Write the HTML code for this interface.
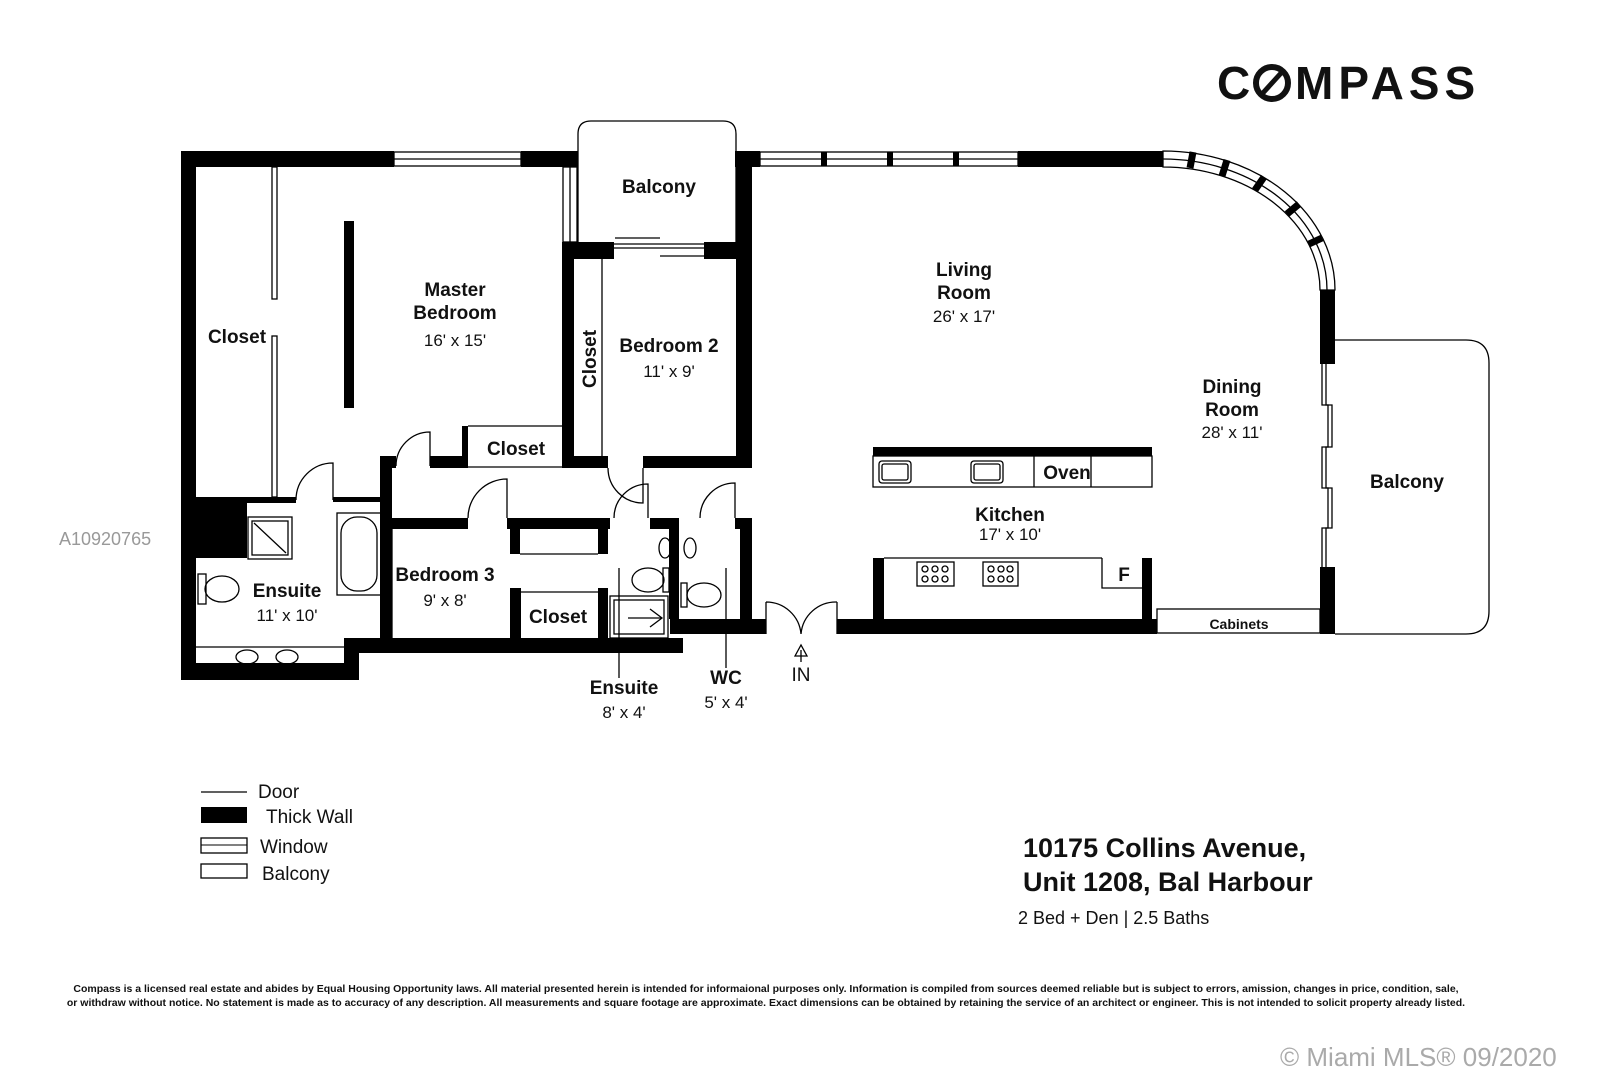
<!DOCTYPE html>
<html><head><meta charset="utf-8"><style>
html,body{margin:0;padding:0;background:#fff;}
svg{display:block;font-family:"Liberation Sans",sans-serif;}
</style></head><body>
<svg width="1600" height="1074" viewBox="0 0 1600 1074" xmlns="http://www.w3.org/2000/svg">
<rect width="1600" height="1074" fill="#fff"/>
<!-- Logo -->
<text x="1217" y="99" font-size="46" font-weight="bold" letter-spacing="5" fill="#111">C</text>
<circle cx="1272" cy="83" r="16" fill="none" stroke="#111" stroke-width="6"/>
<line x1="1262" y1="94" x2="1282" y2="72" stroke="#111" stroke-width="5"/>
<text x="1295" y="99" font-size="46" font-weight="bold" letter-spacing="5" fill="#111">MPASS</text>

<g fill="#000">
<rect x="181" y="151" width="15" height="529"/>
<rect x="181" y="151" width="213" height="16"/>
<rect x="521" y="151" width="57" height="16"/>
<rect x="562" y="242" width="12" height="224"/>
<rect x="562" y="242" width="52" height="17"/>
<rect x="704" y="242" width="48" height="17"/>
<rect x="736" y="151" width="16" height="317"/>
<rect x="562" y="456" width="46" height="12"/>
<rect x="643" y="456" width="109" height="12"/>
<rect x="344" y="221" width="10" height="187"/>
<rect x="196" y="497" width="51" height="61"/>
<rect x="196" y="497" width="100" height="6"/>
<rect x="333" y="497" width="47" height="5"/>
<rect x="380" y="456" width="12" height="182"/>
<rect x="380" y="456" width="16" height="12"/>
<rect x="430" y="456" width="35" height="12"/>
<rect x="462" y="426" width="6" height="42"/>
<rect x="181" y="663" width="178" height="17"/>
<rect x="344" y="638" width="15" height="42"/>
<rect x="344" y="638" width="339" height="15"/>
<rect x="670" y="619" width="96" height="15"/>
<rect x="388" y="518" width="80" height="11"/>
<rect x="507" y="518" width="103" height="11"/>
<rect x="510" y="529" width="10" height="25"/>
<rect x="598" y="529" width="10" height="25"/>
<rect x="510" y="588" width="11" height="50"/>
<rect x="598" y="588" width="10" height="50"/>
<rect x="650" y="518" width="22" height="11"/>
<rect x="669" y="518" width="10" height="101"/>
<rect x="735" y="518" width="17" height="11"/>
<rect x="740" y="518" width="12" height="112"/>
<rect x="735" y="151" width="25" height="16"/>
<rect x="1018" y="151" width="145" height="16"/>
<rect x="1320" y="290" width="15" height="74"/>
<rect x="1320" y="567" width="15" height="67"/>
<rect x="837" y="619" width="320" height="15"/>
<rect x="873" y="447" width="279" height="9"/>
<rect x="873" y="558" width="11" height="61"/>
<rect x="1142" y="558" width="10" height="61"/>
<rect x="821" y="152" width="6" height="14"/>
<rect x="887" y="152" width="6" height="14"/>
<rect x="953" y="152" width="6" height="14"/>
</g>
<g fill="none" stroke="#000" stroke-width="1.3">
<rect x="394" y="152" width="127" height="14"/><line x1="394" y1="159" x2="521" y2="159"/>
<rect x="760" y="152" width="258" height="14"/><line x1="760" y1="159" x2="1018" y2="159"/>
<rect x="563" y="167" width="14" height="75"/><line x1="570" y1="167" x2="570" y2="242"/>
<rect x="272" y="167" width="5" height="132"/>
<rect x="272" y="336" width="5" height="161"/>
<path d="M578,244 L578,134 Q578,121 591,121 L723,121 Q736,121 736,134 L736,244"/>
<path d="M1335,340 L1466,340 Q1489,340 1489,363 L1489,611 Q1489,634 1466,634 L1335,634"/>
<path d="M1163,151 A172,139 0 0 1 1335,290 L1320,290 A157,123 0 0 0 1163,167 Z"/>
<path d="M1163,159 A164,131 0 0 1 1327,290"/>
<line x1="468" y1="426" x2="562" y2="426"/>
<line x1="465" y1="467" x2="562" y2="467"/>
<line x1="602" y1="259" x2="602" y2="456"/>
<line x1="520" y1="554" x2="598" y2="554"/>
<line x1="521" y1="592" x2="598" y2="592"/>
<line x1="392" y1="529" x2="392" y2="638"/>
<rect x="873" y="456" width="279" height="31"/>
<line x1="1034" y1="456" x2="1034" y2="487"/><line x1="1091" y1="456" x2="1091" y2="487"/>
<rect x="879" y="461" width="32" height="22" rx="3"/><rect x="882" y="464" width="26" height="16" rx="2"/>
<rect x="971" y="461" width="32" height="22" rx="3"/><rect x="974" y="464" width="26" height="16" rx="2"/>
<line x1="884" y1="558" x2="1102" y2="558"/>
<polyline points="1102,558 1102,588 1142,588"/>
<rect x="917" y="562" width="37" height="24"/><rect x="983" y="562" width="35" height="24"/>
<circle cx="925" cy="569" r="3"/><circle cx="935" cy="569" r="3"/><circle cx="945" cy="569" r="3"/>
<circle cx="925" cy="579" r="3"/><circle cx="935" cy="579" r="3"/><circle cx="945" cy="579" r="3"/>
<circle cx="991" cy="569" r="3"/><circle cx="1001" cy="569" r="3"/><circle cx="1010" cy="569" r="3"/>
<circle cx="991" cy="579" r="3"/><circle cx="1001" cy="579" r="3"/><circle cx="1010" cy="579" r="3"/>
<rect x="1157" y="609" width="163" height="24"/>
<polyline points="1322,364 1322,405 1328,405 1328,447 1322,447 1322,488 1328,488 1328,528 1322,528 1322,567"/>
<polyline points="1326,364 1326,405 1332,405 1332,447 1326,447 1326,488 1332,488 1332,528 1326,528 1326,567"/>
<line x1="614" y1="244" x2="704" y2="244"/><line x1="614" y1="248" x2="704" y2="248"/>
<line x1="615" y1="238" x2="660" y2="238"/><line x1="660" y1="256" x2="704" y2="256"/>
<path d="M396,466 A34,34 0 0 1 430,432 L430,466"/>
<path d="M296,500 A37,37 0 0 1 333,463 L333,500"/>
<path d="M468,518 A39,39 0 0 1 507,479 L507,518"/>
<path d="M614,518 A34,34 0 0 1 648,484 L648,518"/>
<path d="M700,518 A35,35 0 0 1 735,483 L735,518"/>
<path d="M608,468 A35,35 0 0 0 643,503 L643,468"/>
<path d="M766,602 L766,634 M766,602 A35,35 0 0 1 801,634 M837,602 L837,634 M837,602 A35,35 0 0 0 801,634"/>
<rect x="248" y="517" width="44" height="42"/><rect x="252" y="521" width="36" height="34"/><line x1="254" y1="523" x2="286" y2="553"/>
<rect x="337" y="513" width="44" height="82"/><rect x="341" y="517" width="36" height="74" rx="16"/>
<rect x="198" y="574" width="8" height="30"/><ellipse cx="222" cy="589" rx="17" ry="13"/>
<line x1="196" y1="647" x2="344" y2="647"/>
<ellipse cx="247" cy="657" rx="11" ry="7"/><ellipse cx="287" cy="657" rx="11" ry="7"/>
<ellipse cx="665" cy="548" rx="6" ry="10"/><ellipse cx="690" cy="548" rx="6" ry="10"/>
<ellipse cx="648" cy="580" rx="16" ry="12"/><rect x="663" y="568" width="6" height="24"/>
<ellipse cx="704" cy="595" rx="17" ry="12"/><rect x="681" y="583" width="6" height="24"/>
<rect x="610" y="596" width="58" height="42"/><rect x="614" y="600" width="50" height="34"/>
<line x1="628" y1="618" x2="662" y2="618"/><polyline points="650,609 662,618 650,627"/>
<line x1="619" y1="568" x2="619" y2="678"/>
<line x1="726" y1="568" x2="726" y2="668"/>
<path d="M801,650 L801,662 M795,656 L801,645 L807,656 Z"/>
</g>
<g stroke="#000" stroke-width="7">
<line x1="1193" y1="152" x2="1190" y2="168"/>
<line x1="1227" y1="160" x2="1222" y2="176"/>
<line x1="1264" y1="177" x2="1255" y2="190"/>
<line x1="1299" y1="204" x2="1287" y2="214"/>
<line x1="1322" y1="238" x2="1309" y2="244"/>
</g>
<g font-size="19" fill="#111" text-anchor="middle" font-weight="bold">
<text x="659" y="193">Balcony</text>
<text x="455" y="296">Master</text><text x="455" y="319">Bedroom</text>
<text x="237" y="343">Closet</text>
<text x="669" y="352">Bedroom 2</text>
<text x="516" y="455">Closet</text>
<text x="287" y="597">Ensuite</text>
<text x="445" y="581">Bedroom 3</text>
<text x="558" y="623">Closet</text>
<text x="624" y="694">Ensuite</text>
<text x="726" y="684">WC</text>
<text x="964" y="276">Living</text><text x="964" y="299">Room</text>
<text x="1232" y="393">Dining</text><text x="1232" y="416">Room</text>
<text x="1407" y="488">Balcony</text>
<text x="1010" y="521">Kitchen</text>
<text x="1067" y="479">Oven</text>
<text x="1124" y="581">F</text>
<text x="801" y="681" font-weight="normal">IN</text>
<text transform="translate(596,359) rotate(-90)">Closet</text>
</g>
<g font-size="17" fill="#111" text-anchor="middle">
<text x="455" y="346">16' x 15'</text>
<text x="669" y="377">11' x 9'</text>
<text x="287" y="621">11' x 10'</text>
<text x="445" y="606">9' x 8'</text>
<text x="624" y="718">8' x 4'</text>
<text x="726" y="708">5' x 4'</text>
<text x="964" y="322">26' x 17'</text>
<text x="1232" y="438">28' x 11'</text>
<text x="1010" y="540">17' x 10'</text>
<text x="1239" y="629" font-size="14" font-weight="bold">Cabinets</text>
</g>
<text x="59" y="545" font-size="18" fill="#999">A10920765</text>
<line x1="201" y1="792" x2="247" y2="792" stroke="#000" stroke-width="1.3"/>
<rect x="201" y="807" width="46" height="16" fill="#000"/>
<rect x="201" y="838" width="46" height="15" fill="none" stroke="#000" stroke-width="1.3"/>
<line x1="201" y1="845" x2="247" y2="845" stroke="#000" stroke-width="1"/>
<rect x="201" y="864" width="46" height="14" fill="none" stroke="#000" stroke-width="1.3"/>
<g font-size="19" fill="#111">
<text x="258" y="798">Door</text>
<text x="266" y="823">Thick Wall</text>
<text x="260" y="853">Window</text>
<text x="262" y="880">Balcony</text>
</g>
<g fill="#111">
<text x="1023" y="857" font-size="27" font-weight="bold">10175 Collins Avenue,</text>
<text x="1023" y="891" font-size="27" font-weight="bold">Unit 1208, Bal Harbour</text>
<text x="1018" y="924" font-size="18">2 Bed + Den | 2.5 Baths</text>
</g>
<g font-size="10.5" fill="#111" text-anchor="middle" font-weight="bold">
<text x="766" y="992">Compass is a licensed real estate and abides by Equal Housing Opportunity laws. All material presented herein is intended for informaional purposes only. Information is compiled from sources deemed reliable but is subject to errors, amission, changes in price, condition, sale,</text>
<text x="766" y="1006">or withdraw without notice. No statement is made as to accuracy of any description. All measurements and square footage are approximate. Exact dimensions can be obtained by retaining the service of an architect or engineer. This is not intended to solicit property already listed.</text>
</g>
<text x="1280" y="1066" font-size="26" fill="#aaa">© Miami MLS® 09/2020</text>
</svg>
</body></html>
